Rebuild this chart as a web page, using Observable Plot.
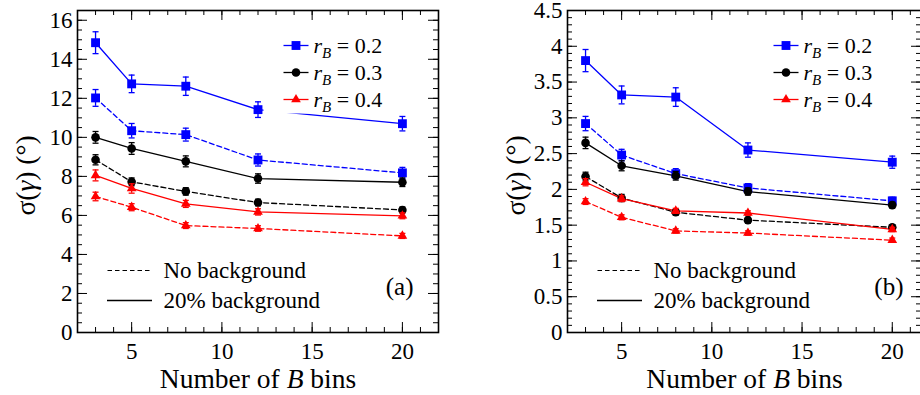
<!DOCTYPE html>
<html><head><meta charset="utf-8">
<script src="https://cdn.jsdelivr.net/npm/d3@7"></script>
<script src="https://cdn.jsdelivr.net/npm/@observablehq/plot@0.6"></script>
<style>
html,body{margin:0;padding:0;background:#fff;overflow:hidden;}
#wrap{position:relative;width:920px;height:395px;overflow:hidden;background:#fff;}
#wrap svg{position:absolute;top:0;}
</style></head><body><div id="wrap"></div>
<script>
// ---------------- data ----------------
const bins = [3, 5, 8, 12, 20];
const colors = ["#0000ff", "#000000", "#ff0000"];
const markerSymbols = ["square", "circle", "triangle"];
const markerR = [5.0, 4.3, 3.6];

// Panel (a): 20% background (solid) and no background (dashed)
const aBkg02 = [14.85, 12.74, 12.62, 11.42, 10.70];
const aBkg02Err = [0.56, 0.45, 0.47, 0.40, 0.37];
const aBkg03 = [10.00, 9.43, 8.77, 7.89, 7.70];
const aBkg03Err = [0.30, 0.30, 0.28, 0.24, 0.22];
const aBkg04 = [8.05, 7.38, 6.59, 6.18, 5.98];
const aBkg04Err = [0.28, 0.24, 0.18, 0.16, 0.15];
const aNo02 = [12.02, 10.34, 10.14, 8.84, 8.18];
const aNo02Err = [0.43, 0.37, 0.33, 0.31, 0.28];
const aNo03 = [8.85, 7.72, 7.23, 6.66, 6.28];
const aNo03Err = [0.26, 0.20, 0.19, 0.17, 0.15];
const aNo04 = [6.97, 6.42, 5.48, 5.33, 4.95];
const aNo04Err = [0.22, 0.18, 0.15, 0.14, 0.13];

// Panel (b)
const bBkg02 = [3.80, 3.32, 3.29, 2.55, 2.38];
const bBkg02Err = [0.155, 0.125, 0.13, 0.10, 0.085];
const bBkg03 = [2.65, 2.33, 2.19, 1.97, 1.78];
const bBkg03Err = [0.08, 0.07, 0.06, 0.05, 0.04];
const bBkg04 = [2.10, 1.87, 1.70, 1.67, 1.44];
const bBkg04Err = [0.05, 0.04, 0.035, 0.03, 0.03];
const bNo02 = [2.92, 2.48, 2.22, 2.02, 1.84];
const bNo02Err = [0.10, 0.08, 0.07, 0.06, 0.05];
const bNo03 = [2.18, 1.88, 1.68, 1.57, 1.47];
const bNo03Err = [0.06, 0.05, 0.04, 0.04, 0.035];
const bNo04 = [1.83, 1.61, 1.42, 1.39, 1.29];
const bNo04Err = [0.04, 0.035, 0.03, 0.03, 0.03];

// axes / ticks
const aXDomain = [2, 22];
const bXDomain = [2, 21.62];
const xMajor = [5, 10, 15, 20];
const xMinor = d3.range(3, 22, 1);
const aYDomain = [0, 16.5];
const aYMajor = [0, 2, 4, 6, 8, 10, 12, 14, 16];
const aYMinor = d3.range(0, 16.51, 0.5);
const bYDomain = [0, 4.5];
const bYMajor = [0, 0.5, 1, 1.5, 2, 2.5, 3, 3.5, 4, 4.5];
const bYMinor = d3.range(0, 4.501, 0.1);

const legendText = ["r_B = 0.2", "r_B = 0.3", "r_B = 0.4"];
const bkgLabels = ["No background", "20% background"];
const xTitle = "Number of B bins";
const yTitle = "σ(γ) (°)";

// ---------------- helpers ----------------
function rows(vals, errs) { return bins.map((x, i) => ({x, y: vals[i], err: errs[i]})); }
const capSym = {draw(ctx) { ctx.moveTo(-3, 0); ctx.lineTo(3, 0); }};
const segSym = (len) => ({draw(ctx) { ctx.moveTo(-len / 2, 0); ctx.lineTo(len / 2, 0); }});

const W = 460, H = 395, ML = 77, MT = 10, MB = 63;
const IH = H - MT - MB;
const FONT = "Liberation Serif";

function panel(cfg) {
  const IW = W - ML - cfg.marginRight;
  const marks = [];
  cfg.series.forEach((s, i) => {
    const groups = [[rows(s.bkg, s.bkgErr), null], [rows(s.no, s.noErr), "5,3"]];
    groups.forEach(([data, dash]) => {
      marks.push(Plot.line(data, {x: "x", y: "y", stroke: colors[i], strokeWidth: 1.3, strokeDasharray: dash}));
    });
  });
  cfg.series.forEach((s, i) => {
    [rows(s.bkg, s.bkgErr), rows(s.no, s.noErr)].forEach((data) => {
      marks.push(Plot.ruleX(data, {x: "x", y1: d => d.y - d.err, y2: d => d.y + d.err, stroke: colors[i], strokeWidth: 1.3}));
      marks.push(Plot.dot(data, {x: "x", y: d => d.y + d.err, symbol: capSym, stroke: colors[i], fill: "none", strokeWidth: 1.3}));
      marks.push(Plot.dot(data, {x: "x", y: d => d.y - d.err, symbol: capSym, stroke: colors[i], fill: "none", strokeWidth: 1.3}));
      marks.push(Plot.dot(data, {x: "x", y: "y", symbol: markerSymbols[i], r: markerR[i], fill: colors[i], stroke: "none"}));
    });
  });
  // white legend box
  marks.push(Plot.frame({fill: "white", stroke: null, insetLeft: 186, insetTop: 20, insetRight: IW - 341, insetBottom: IH - 103}));
  // legend rB
  [0, 1, 2].forEach(i => {
    const dy = 35 + 27 * i;
    marks.push(Plot.dot([0], {frameAnchor: "top-left", dx: 218.5, dy, symbol: segSym(25), stroke: colors[i], fill: "none", strokeWidth: 1.3}));
    marks.push(Plot.dot([0], {frameAnchor: "top-left", dx: 218.5, dy, symbol: markerSymbols[i], r: markerR[i], fill: colors[i], stroke: "none"}));
    marks.push(Plot.text([legendText[i]], {text: d => d, frameAnchor: "top-left", dx: 236, dy: dy + 7, textAnchor: "start", lineAnchor: "bottom", fontSize: 22}));
  });
  // background legend
  marks.push(Plot.dot([0], {frameAnchor: "top-left", dx: 52, dy: 260, symbol: segSym(44), stroke: "black", fill: "none", strokeWidth: 1.2, strokeDasharray: "4.5,3"}));
  marks.push(Plot.dot([0], {frameAnchor: "top-left", dx: 52, dy: 290, symbol: segSym(45), stroke: "black", fill: "none", strokeWidth: 1.3}));
  marks.push(Plot.text([bkgLabels[0]], {text: d => d, frameAnchor: "top-left", dx: 86, dy: 267, textAnchor: "start", lineAnchor: "bottom", fontSize: 23}));
  marks.push(Plot.text([bkgLabels[1]], {text: d => d, frameAnchor: "top-left", dx: 86, dy: 297, textAnchor: "start", lineAnchor: "bottom", fontSize: 23}));
  marks.push(Plot.text([cfg.tag], {text: d => d, frameAnchor: "top-left", dx: 336, dy: 284, textAnchor: "end", lineAnchor: "bottom", fontSize: 25}));
  // ticks (inward, mirrored)
  const xm = xMinor.filter(v => v < cfg.xDomain[1]);
  marks.push(Plot.ruleY(cfg.yMinor, {y: d => d, insetRight: IW - 5, stroke: "black"}));
  marks.push(Plot.ruleY(cfg.yMinor, {y: d => d, insetLeft: IW - 5, stroke: "black"}));
  marks.push(Plot.ruleY(cfg.yMajor, {y: d => d, insetRight: IW - 10, stroke: "black"}));
  marks.push(Plot.ruleY(cfg.yMajor, {y: d => d, insetLeft: IW - 10, stroke: "black"}));
  marks.push(Plot.ruleX(xm, {x: d => d, insetTop: IH - 5, stroke: "black"}));
  marks.push(Plot.ruleX(xm, {x: d => d, insetBottom: IH - 5, stroke: "black"}));
  marks.push(Plot.ruleX(xMajor, {x: d => d, insetTop: IH - 10, stroke: "black"}));
  marks.push(Plot.ruleX(xMajor, {x: d => d, insetBottom: IH - 10, stroke: "black"}));
  // tick labels
  marks.push(Plot.axisY({ticks: cfg.yMajor, tickSize: 0, tickPadding: 5, fontSize: 23, label: null, tickFormat: d => String(d)}));
  marks.push(Plot.axisX({ticks: xMajor, tickSize: 0, tickPadding: 10, fontSize: 23, label: null, tickFormat: d => String(d)}));
  // titles
  marks.push(Plot.text([xTitle], {text: d => d, frameAnchor: "bottom", dy: 55, textAnchor: "middle", lineAnchor: "bottom", fontSize: 27.5}));
  marks.push(Plot.text([yTitle], {text: d => d, frameAnchor: "left", dx: -51, dy: 4, rotate: -90, textAnchor: "middle", lineAnchor: "middle", fontSize: 27.5}));
  marks.push(Plot.frame({stroke: "black", strokeWidth: 1.6}));

  const svg = Plot.plot({
    width: W, height: H, marginLeft: ML, marginRight: cfg.marginRight, marginTop: MT, marginBottom: MB,
    x: {domain: cfg.xDomain},
    y: {domain: cfg.yDomain},
    marks
  });
  svg.setAttribute("font-family", FONT);
  svg.querySelectorAll("g").forEach(g => { if (g.hasAttribute("font-family")) g.setAttribute("font-family", FONT); });
  svg.querySelectorAll("text").forEach(t => {
    t.setAttribute("font-family", FONT);
    const s = t.textContent;
    if (s.startsWith("r_B = ")) {
      t.innerHTML = `<tspan font-style="italic">r</tspan><tspan font-style="italic" font-size="15" dy="5">B</tspan><tspan dy="-5"> = ${s.slice(6)}</tspan>`;
    } else if (s === xTitle) {
      t.innerHTML = `Number of <tspan font-style="italic">B</tspan> bins`;
    } else if (s === yTitle) {
      t.innerHTML = `σ(<tspan font-style="italic">γ</tspan>) (°)`;
    }
  });
  svg.style.left = cfg.left + "px";
  return svg;
}

const wrap = document.getElementById("wrap");
wrap.appendChild(panel({
  left: 0, tag: "(a)", marginRight: 22, xDomain: aXDomain, yDomain: aYDomain, yMajor: aYMajor, yMinor: aYMinor,
  series: [
    {bkg: aBkg02, bkgErr: aBkg02Err, no: aNo02, noErr: aNo02Err},
    {bkg: aBkg03, bkgErr: aBkg03Err, no: aNo03, noErr: aNo03Err},
    {bkg: aBkg04, bkgErr: aBkg04Err, no: aNo04, noErr: aNo04Err}
  ]
}));
wrap.appendChild(panel({
  left: 490, tag: "(b)", marginRight: 29, xDomain: bXDomain, yDomain: bYDomain, yMajor: bYMajor, yMinor: bYMinor,
  series: [
    {bkg: bBkg02, bkgErr: bBkg02Err, no: bNo02, noErr: bNo02Err},
    {bkg: bBkg03, bkgErr: bBkg03Err, no: bNo03, noErr: bNo03Err},
    {bkg: bBkg04, bkgErr: bBkg04Err, no: bNo04, noErr: bNo04Err}
  ]
}));
</script></body></html>
